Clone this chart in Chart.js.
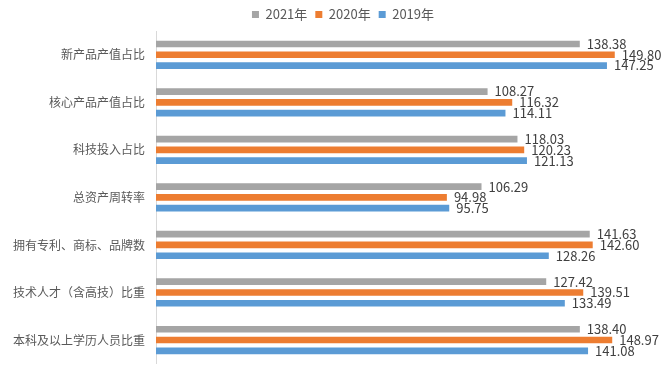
<!DOCTYPE html>
<html>
<head>
<meta charset="utf-8">
<script src="https://cdn.jsdelivr.net/npm/chart.js@4/dist/chart.umd.min.js"></script>
<style>
  html, body { margin: 0; padding: 0; background: #fff; }
  #wrap { width: 665px; height: 374px; }
</style>
</head>
<body>
<div id="wrap"><canvas id="chart" width="665" height="374"></canvas></div>
<script>
// ── Data ────────────────────────────────────────────────
const categories = [
  '新产品产值占比',
  '核心产品产值占比',
  '科技投入占比',
  '总资产周转率',
  '拥有专利、商标、品牌数',
  '技术人才（含高技）比重',
  '本科及以上学历人员比重',
];
const seriesNames = ['2021年', '2020年', '2019年'];
const values2021 = [138.38, 108.27, 118.03, 106.29, 141.63, 127.42, 138.40];
const values2020 = [149.80, 116.32, 120.23, 94.98, 142.60, 139.51, 148.97];
const values2019 = [147.25, 114.11, 121.13, 95.75, 128.26, 133.49, 141.08];

const COLORS = ['#a5a5a5', '#ed7d31', '#5b9bd5'];
const FONT = "'Noto Sans CJK SC', 'Microsoft YaHei', sans-serif";

// draws the value at the end of each bar
const barLabels = {
  id: 'barLabels',
  afterDatasetsDraw(chart) {
    const ctx = chart.ctx;
    ctx.save();
    ctx.font = `13px ${FONT}`;
    ctx.fillStyle = '#404040';
    ctx.textAlign = 'left';
    ctx.textBaseline = 'middle';
    chart.data.datasets.forEach((ds, i) => {
      chart.getDatasetMeta(i).data.forEach((bar, j) => {
        ctx.fillText(ds.data[j].toFixed(2), bar.x + 7, bar.y);
      });
    });
    ctx.restore();
  },
};

// nudge the legend a bit to the right, like the original
const legendShift = {
  id: 'legendShift',
  afterLayout(chart) {
    if (chart.legend) chart.legend.left += 40;
  },
};

new Chart(document.getElementById('chart').getContext('2d'), {
  type: 'bar',
  data: {
    labels: categories,
    datasets: [values2021, values2020, values2019].map((vals, i) => ({
      label: seriesNames[i],
      data: vals,
      backgroundColor: COLORS[i],
      borderWidth: 0,
      categoryPercentage: 0.68,
      barPercentage: 0.62,
    })),
  },
  options: {
    indexAxis: 'y',
    responsive: false,
    animation: false,
    layout: { padding: { top: 0, right: 19, bottom: 4.5, left: 0 } },
    plugins: {
      legend: {
        position: 'top',
        labels: {
          boxWidth: 7,
          boxHeight: 7,
          color: '#595959',
          font: { family: FONT, size: 13 },
          padding: 8,
        },
      },
      tooltip: { enabled: false },
    },
    scales: {
      x: { display: false, min: 0, max: 160 },
      y: {
        grid: { display: false },
        border: { color: '#d9d9d9' },
        ticks: { color: '#595959', font: { family: FONT, size: 12 }, padding: 3 },
        afterFit(scale) { scale.width = 156; },
      },
    },
  },
  plugins: [barLabels, legendShift],
});
</script>
</body>
</html>
